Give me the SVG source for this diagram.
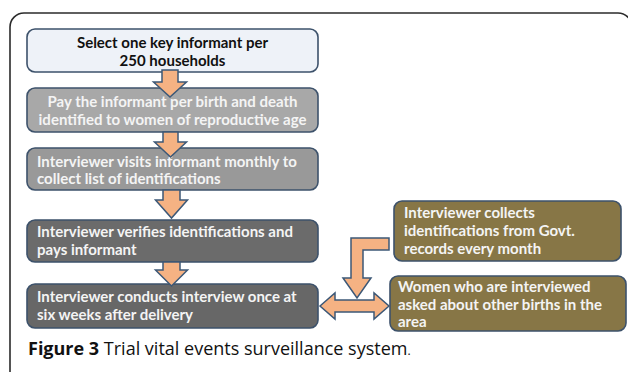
<svg xmlns="http://www.w3.org/2000/svg" width="628" height="372" viewBox="0 0 628 372">
<defs>
<style>
.frame{fill:#fff;stroke:#2b2b2b;stroke-width:1.6}
.box{stroke:#3d526b;stroke-width:1.6}
.t{font-family:Lato,"Open Sans","Liberation Sans",sans-serif;font-weight:bold;font-size:15px}
.w{fill:#f4f4f4}
.arr{fill:#f5b283;stroke:#3c5877;stroke-width:1.5;stroke-linejoin:miter}
.cap{font-family:"Open Sans","Liberation Sans",sans-serif;font-size:18px;fill:#111}
</style>
</defs>
<rect width="628" height="372" fill="#fff"/>
<rect class="frame" x="10" y="13" width="622" height="420" rx="14"/>
<g id="n1">
<rect class="box" x="27" y="29" width="291" height="43" rx="8" fill="#eef2f8"/>
<text class="t" x="172.5" y="48" text-anchor="middle" fill="#111">Select one key informant per</text>
<text class="t" x="172.5" y="66" text-anchor="middle" fill="#111">250 households</text>
</g>
<g id="n2">
<rect class="box" x="27" y="88" width="291" height="44" rx="8" fill="#a8a8a8"/>
<text class="t w" x="172.5" y="107" text-anchor="middle">Pay the informant per birth and death</text>
<text class="t w" x="172.5" y="125" text-anchor="middle">identified to women of reproductive age</text>
</g>
<g id="n3">
<rect class="box" x="27" y="148" width="291" height="42" rx="8" fill="#999999"/>
<text class="t w" x="37" y="167">Interviewer visits informant monthly to</text>
<text class="t w" x="37" y="184">collect list of identifications</text>
</g>
<g id="n4">
<rect class="box" x="27" y="220" width="291" height="42" rx="8" fill="#6b6b6b"/>
<text class="t w" x="37" y="237">Interviewer verifies identifications and</text>
<text class="t w" x="37" y="255">pays informant</text>
</g>
<g id="n5">
<rect class="box" x="27" y="284" width="291" height="44" rx="8" fill="#676767"/>
<text class="t w" x="37" y="302">Interviewer conducts interview once at</text>
<text class="t w" x="37" y="320">six weeks after delivery</text>
</g>
<g id="n6">
<rect class="box" x="394" y="201" width="227" height="60" rx="8" fill="#877646"/>
<text class="t w" x="404" y="218">Interviewer collects</text>
<text class="t w" x="404" y="236">identifications from Govt.</text>
<text class="t w" x="404" y="254">records every month</text>
</g>
<g id="n7">
<rect class="box" x="390" y="276" width="236" height="55" rx="8" fill="#877646"/>
<text class="t w" x="398" y="292">Women who are interviewed</text>
<text class="t w" x="398" y="310">asked about other births in the</text>
<text class="t w" x="398" y="327">area</text>
</g>
<g id="connectors">
<path class="arr" d="M162,70 L178,70 L178,82 L186.5,82 L170,97 L153.5,82 L162,82 Z"/>
<path class="arr" d="M163,132 L178,132 L178,142 L186.5,142 L170.5,157 L154.5,142 L163,142 Z"/>
<path class="arr" d="M163,190 L180,190 L180,200 L187.5,200 L171.5,218 L155.5,200 L163,200 Z"/>
<path class="arr" d="M163,262 L180,262 L180,270 L187.5,270 L171.5,286 L155.5,270 L163,270 Z"/>
<path class="arr" d="M389,238 L351,238 L351,278 L343,278 L357,298 L371,278 L363,278 L363,250 L389,250 Z"/>
<path class="arr" d="M320,306 L335,293 L335,300 L374,300 L374,293 L389,306 L374,319 L374,312 L335,312 L335,319 Z"/>
</g>
<text class="cap" x="28" y="355"><tspan font-weight="bold">Figure 3</tspan> Trial vital events surveillance system<tspan font-size="12">.</tspan></text>
</svg>
